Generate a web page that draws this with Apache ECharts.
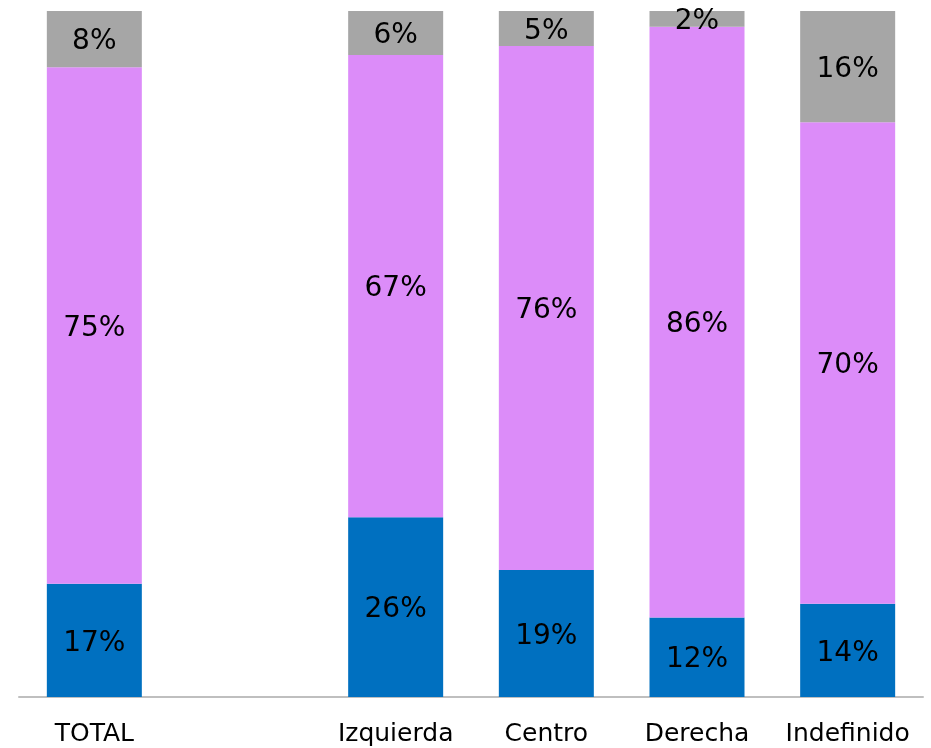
<!DOCTYPE html>
<html><head><meta charset="utf-8">
<script src="https://cdn.jsdelivr.net/npm/echarts@6/dist/echarts.min.js"></script>
<style>html,body{margin:0;padding:0;background:#fff}#c{width:931px;height:748px}</style>
</head><body><div id="c"></div>
<script>
const categories = ['TOTAL', '', 'Izquierda', 'Centro', 'Derecha', 'Indefinido'];
const blueValues   = [16.5, null, 26.2, 18.5, 11.6, 13.6];
const purpleValues = [75.3, null, 67.4, 76.4, 86.1, 70.2];
const grayValues   = [8.2,  null, 6.4,  5.1,  2.3,  16.2];

const labelCfg = {
  show: true, position: 'inside', color: '#000',
  fontFamily: 'DejaVu Sans', fontSize: 28, offset: [0, 3],
  formatter: p => p.value == null ? '' : Math.round(p.value) + '%'
};
function mk(name, data, color) {
  return { name, type: 'bar', stack: 's', data, barWidth: 95,
    itemStyle: { color }, label: labelCfg, emphasis: { disabled: true } };
}
const chart = echarts.init(document.getElementById('c'));
chart.setOption({
  animation: false,
  grid: { left: 19, right: 8, top: 11, bottom: 51 },
  xAxis: { type: 'category', data: categories,
    axisLine: { lineStyle: { color: '#BFBFBF', width: 2 } },
    axisTick: { show: false },
    axisLabel: { color: '#000', fontFamily: 'DejaVu Sans', fontSize: 25, margin: 25, interval: 0 } },
  yAxis: { type: 'value', min: 0, max: 100, show: false },
  series: [mk('Sí', blueValues, '#0070C0'), mk('No', purpleValues, '#DC8CF9'), mk('NS', grayValues, '#A6A6A6')]
});
</script></body></html>
